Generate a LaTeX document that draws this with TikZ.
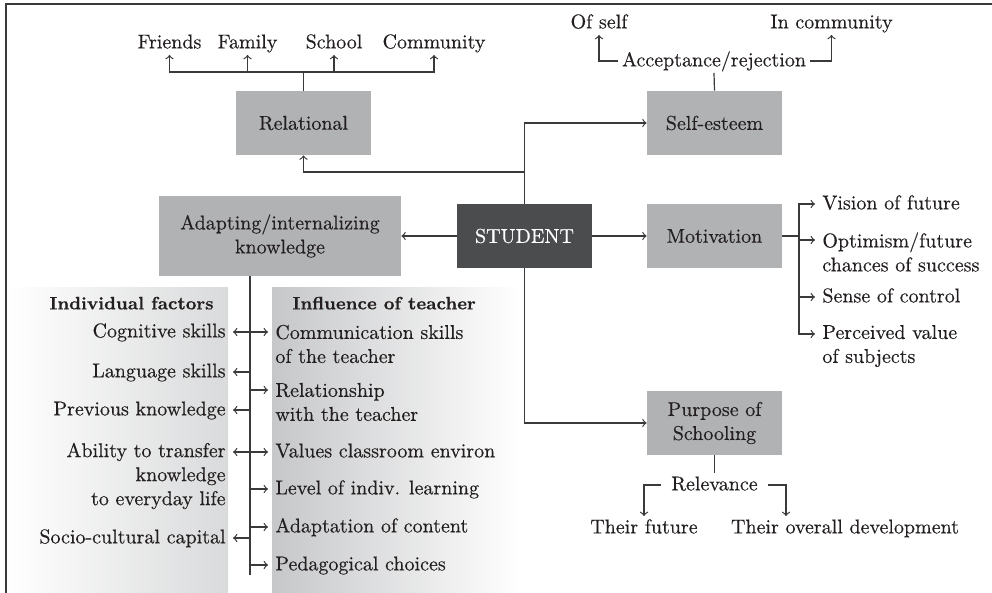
\documentclass[tikz,border=0pt]{standalone}
\usepackage{fontspec}
\setmainfont{Latin Modern Roman}[FakeBold=0.35]
\usepackage{tikz}
\usetikzlibrary{arrows}
\usetikzlibrary{calc}

\definecolor{boxgray}{HTML}{B1B2B4}
\definecolor{hubgray}{HTML}{4B4C4E}
\definecolor{panelL}{HTML}{D9DADB}
\definecolor{panelR}{HTML}{C6C7C9}
\definecolor{ink}{HTML}{231F20}
\definecolor{wiregray}{HTML}{3A3A3A}

\tikzset{
  box/.style={fill=boxgray, text=ink, minimum width=67.5pt, minimum height=32pt, align=center, inner sep=2pt},
  hub/.style={box, fill=hubgray, text=white},
  lbl/.style={text=ink, inner sep=2pt, text height=1.5ex, text depth=.25ex},
  item/.style={lbl, inner xsep=3.5pt},
  items/.style={text=ink, inner xsep=3.5pt, inner ysep=2pt},
  head/.style={lbl, font=\fontsize{9}{11}\selectfont\bfseries},
  wire/.style={draw=wiregray, line width=0.6pt},
}

\begin{document}
\begin{tikzpicture}[x=0.5pt, y=-0.5pt, >=to]
\useasboundingbox (0,0) rectangle (992,593);

% Grey panels behind the two lists, and the frame (top and left only)
\shade[left color=white, right color=panelL] (8,288) rectangle (228,593);
\shade[left color=panelR, right color=white] (272,288) rectangle (520,593);
\draw[wire, line width=0.8pt] (6,593) -- (6,4) -- (992,4);

% First, define the boxes
\draw (303.5,123) node[box] (rel) {Relational};
\draw (714.5,123) node[box] (est) {Self-esteem};
\draw (280,236) node[box, minimum width=121pt, minimum height=40pt] (adp) {Adapting/internalizing\\knowledge};
\draw (524.5,236) node[hub] (stu) {STUDENT};
\draw (714.5,236) node[box] (mot) {Motivation};
\draw (714.5,423) node[box] (pur) {Purpose of\\Schooling};

% Arrows out of the student box
\coordinate (s1) at (524.5,172);
\draw[wire, ->] (stu) -- (adp);
\draw[wire, ->] (stu) -- (mot);
\draw[wire, ->] (stu.north) |- (est.west);
\draw[wire, ->] (stu.south) |- (pur.west);
\draw[wire, ->] (s1) -| (rel.south);

% Relational: the four places, all fed from one bar
\draw (169.5,43) node[lbl] (fr) {Friends};
\draw (247.5,43) node[lbl] (fa) {Family};
\draw (334,43) node[lbl] (sc) {School};
\draw (434,43) node[lbl] (co) {Community};
\coordinate (r1) at (303.5,72);
\draw[wire] (rel.north) -- (r1);
\foreach \n in {fr,fa,sc,co} \draw[wire, ->] (r1) -| (\n.south);

% Self-esteem
\draw (714,61) node[lbl] (acc) {Acceptance/rejection};
\draw (599,23) node[lbl] (os) {Of self};
\draw (831.5,23) node[lbl] (ic) {In community};
\draw[wire] (est.north) -- (acc.south);
\draw[wire, ->] (acc.west) -| (os.south);
\draw[wire, ->] (acc.east) -| (ic.south);

% Motivation: one bracket, four arrows
\draw (815,204) node[item, anchor=west] (vi) {Vision of future};
\draw (815,252) node[items, anchor=west, align=left] (op) {Optimism/future\\chances of success};
\draw (815,297) node[item, anchor=west] (se) {Sense of control};
\draw (815,346) node[items, anchor=west, align=left] (pv) {Perceived value\\of subjects};
\coordinate (m1) at (799,236);
\draw[wire] (mot.east) -- (m1);
\draw[wire, ->] (m1) |- (vi.west);
\draw[wire, ->] (m1) |- ([yshift=6pt]op.west);
\draw[wire, ->] (m1) |- (se.west);
\draw[wire, ->] (m1) |- ([yshift=6pt]pv.west);

% Purpose of schooling
\draw (714.5,485) node[lbl, inner xsep=5pt] (rv) {Relevance};
\draw (644,528) node[lbl] (tf) {Their future};
\draw (845,528) node[lbl] (td) {Their overall development};
\draw[wire] (pur.south) -- (rv.north);
\draw[wire, ->] (rv.west) -| (tf.north);
\draw[wire, ->] (rv.east) -| ([xshift=-29.5pt]td.north);

% Knowledge: a stem with the individual factors left, the teacher right
\coordinate (k1) at (250,575);
\draw[wire] (adp.south -| k1) -- (k1);
\draw (131.5,304) node[head] (ind) {Individual factors};
\draw (288,304) node[head, anchor=west] (inf) {Influence of teacher};

\draw (233,332) node[item, anchor=east] (cg) {Cognitive skills};
\draw (233,372) node[item, anchor=east] (ls) {Language skills};
\draw (233,410) node[item, anchor=east] (pk) {Previous knowledge};
\draw (233,476) node[items, anchor=east, align=right] (at) {Ability to transfer\\knowledge\\to everyday life};
\draw (233,538) node[item, anchor=east] (scc) {Socio-cultural capital};

\draw (268,344) node[items, anchor=west, align=left] (cm) {Communication skills\\of the teacher};
\draw (268,402) node[items, anchor=west, align=left] (rs) {Relationship\\with the teacher};
\draw (268,452) node[item, anchor=west] (vc) {Values classroom environ};
\draw (268,489) node[item, anchor=west] (lv) {Level of indiv. learning};
\draw (268,527) node[item, anchor=west] (ac) {Adaptation of content};
\draw (268,565) node[item, anchor=west] (pc) {Pedagogical choices};

% arrows off the stem; multi-line texts take the arrow on their first line
\coordinate (at1) at ([yshift=12pt]at.east);
\coordinate (cm1) at ([yshift=6pt]cm.west);
\coordinate (rs1) at ([yshift=6pt]rs.west);
\foreach \n in {cg,ls,pk,scc,at1} \draw[wire, ->] (\n.east -| k1) -- (\n.east);
\foreach \n in {vc,lv,ac,pc,cm1,rs1} \draw[wire, ->] (\n.west -| k1) -- (\n.west);
\end{tikzpicture}
\end{document}
